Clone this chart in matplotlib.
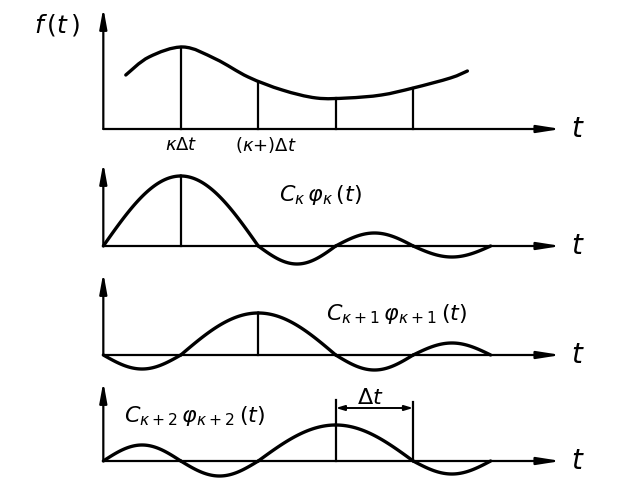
import numpy as np
import matplotlib
matplotlib.use("Agg")
import matplotlib.pyplot as plt
from matplotlib.path import Path
from matplotlib.patches import PathPatch

plt.rcParams['mathtext.fontset'] = 'custom'
plt.rcParams['mathtext.it'] = 'DejaVu Sans:italic'
plt.rcParams['mathtext.rm'] = 'DejaVu Sans'

# sample instants (units of delta t), k = 1
samples = [1, 2, 3, 4]

# f(t) (height above axis, px)
f_t = [0.29, 0.59, 1.03, 1.45, 1.87, 2.31, 2.75, 3.15, 3.59, 4.0, 4.48, 4.70]
f_y = [54, 72, 82, 70, 52, 39, 31, 31, 34, 41, 51, 58]
f_at_samples = [82, 47, 31, 41]

# C_k phi_k(t) panels: centre sample, peak and side-lobe heights per interval
centres = [1, 2, 3]
peaks = [70, 42, 36]
side_lobes = [
    {2: -18, 3: 13, 4: -11},
    {0: -14, 3: -15, 4: 12},
    {0: 16, 1: -15, 4: -13},
]
labels = [r"$C_{\kappa}\,\varphi_{\kappa}\,(t)$",
          r"$C_{\kappa+1}\,\varphi_{\kappa+1}\,(t)$",
          r"$C_{\kappa+2}\,\varphi_{\kappa+2}\,(t)$"]
label_pos = [(2.81, 51), (3.79, 41), (1.18, 45)]

W, H = 640, 491
fig = plt.figure(figsize=(W / 100, H / 100), dpi=100)
fig.patch.set_facecolor("white")

X0, X1 = 101, 565
XLIM = (-0.03, 5.96)


def panel(baseline, top, below):
    # axes in px units vertically: 1 data unit = 1 pixel
    bottom_px = baseline + below
    ax = fig.add_axes([X0 / W, 1 - bottom_px / H, (X1 - X0) / W, (below + top) / H])
    ax.set_xlim(*XLIM)
    ax.set_ylim(-below, top)
    ax.axis("off")
    ax.annotate("", xy=(5.91, 0), xytext=(0, 0),
                arrowprops=dict(arrowstyle="-|>,head_length=1.4,head_width=0.22",
                                lw=1.6, color="black", shrinkA=0, shrinkB=0),
                annotation_clip=False)
    ax.annotate("", xy=(0, top), xytext=(0, 0),
                arrowprops=dict(arrowstyle="-|>,head_length=1.2,head_width=0.22",
                                lw=1.6, color="black", shrinkA=0, shrinkB=0),
                annotation_clip=False)
    ax.text(6.13, 0, r"$t$", fontsize=20, ha="center", va="center")
    return ax


def smooth_path(xs, ys):
    # Catmull-Rom through the read points, handed to matplotlib as cubic Beziers
    pts = np.column_stack([xs, ys]).astype(float)
    verts = [pts[0]]
    codes = [Path.MOVETO]
    for i in range(len(pts) - 1):
        p0 = pts[max(i - 1, 0)]
        p1, p2 = pts[i], pts[i + 1]
        p3 = pts[min(i + 2, len(pts) - 1)]
        verts += [p1 + (p2 - p0) / 6, p2 - (p3 - p1) / 6, p2]
        codes += [Path.CURVE4] * 3
    return Path(verts, codes)


# top panel: f(t)
ax = panel(129, 121, 22)
ax.add_patch(PathPatch(smooth_path(f_t, f_y), fill=False, lw=2.4,
                       edgecolor="black", capstyle="round"))
for s, v in zip(samples, f_at_samples):
    ax.plot([s, s], [0, v], color="black", lw=1.6)
ax.text(-0.6, 104, r"$f\,(t\,)$", fontsize=18, ha="center", va="center")
ax.text(1.0, -16, r"$\kappa\Delta t$", fontsize=13, ha="center", va="center")
ax.text(2.1, -16, r"$(\kappa$+$)\Delta t$", fontsize=13, ha="center", va="center")

# three weighted basis functions
geom = [(246, 83), (355, 82), (461, 79)]
for i, (base, top) in enumerate(geom):
    ax = panel(base, top, 25)
    k = centres[i]
    for n in range(5):
        t = np.linspace(n, n + 1, 60)
        if n in (k - 1, k):
            y = peaks[i] * np.cos(np.pi * (t - k) / 2)
        else:
            y = side_lobes[i][n] * np.sin(np.pi * (t - n))
        ax.plot(t, y, color="black", lw=2.4, solid_capstyle="round")
    lx, ly = label_pos[i]
    ax.text(lx, ly, labels[i], fontsize=16, ha="center", va="center")
    if i < 2:
        ax.plot([k, k], [0, peaks[i]], color="black", lw=1.6)
    else:
        ax.plot([k, k], [0, 61], color="black", lw=1.6)
        ax.plot([k + 1, k + 1], [0, 59], color="black", lw=1.6)
        ax.annotate("", xy=(k, 53), xytext=(k + 1, 53),
                    arrowprops=dict(arrowstyle="<|-|>,head_length=0.5,head_width=0.15",
                                    lw=1.4, color="black", shrinkA=0, shrinkB=0))
        ax.text(k + 0.45, 63, r"$\Delta t$", fontsize=16, ha="center", va="center")

fig.savefig("out.png", dpi=100, facecolor="white")
